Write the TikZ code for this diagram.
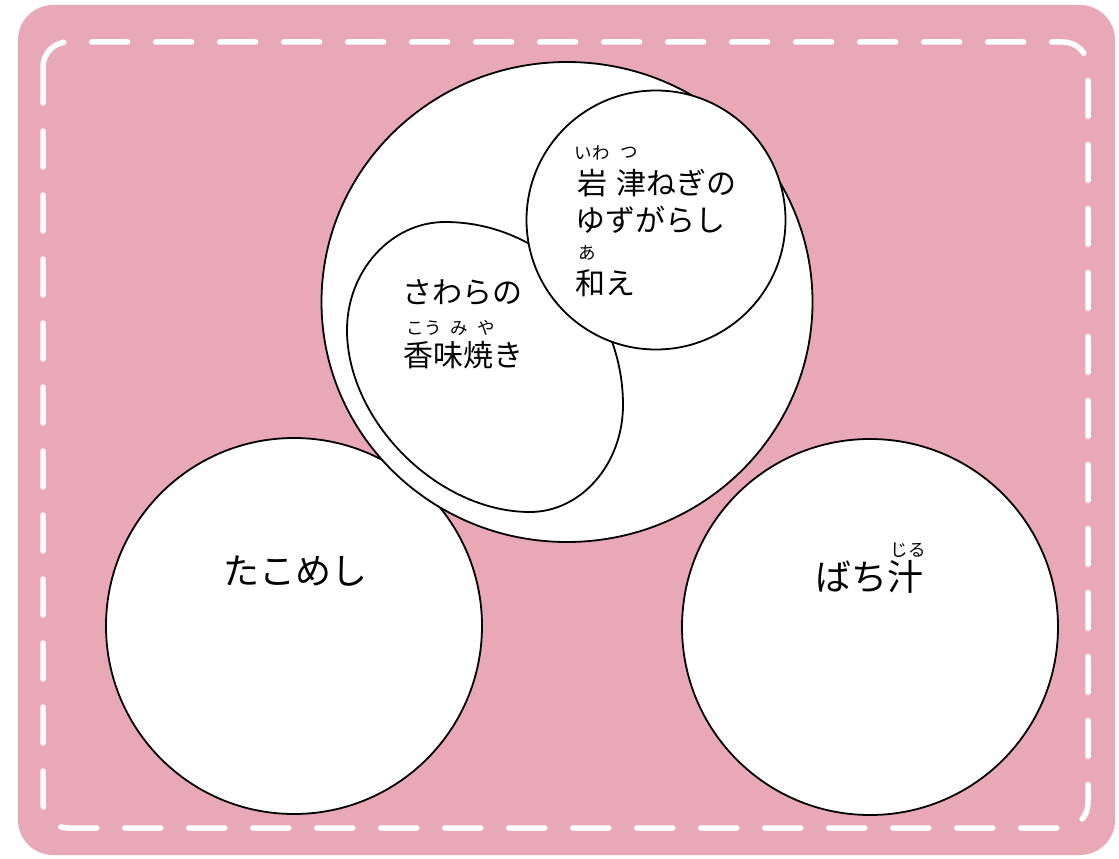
\documentclass[tikz,border=0pt]{standalone}
\usepackage{fontspec}
\newfontfamily\jpfont{Noto Sans CJK JP}
\usetikzlibrary{positioning}
\usetikzlibrary{shapes.geometric}
\definecolor{felt}{RGB}{233,168,182}

\tikzset{
  dish/.style={draw=black, line width=1.8pt, fill=white, circle, inner sep=0pt},
  menu/.style={font=\jpfont\fontsize{30}{36}\selectfont, anchor=west, inner sep=0pt},
  bigmenu/.style={font=\jpfont\fontsize{36}{42}\selectfont, inner sep=0pt},
  furi/.style={font=\jpfont\fontsize{17.5}{20}\selectfont, inner sep=0pt},
  stitch/.style={draw=white, line width=5.5pt, line cap=round, dash pattern=on 36pt off 28pt, rounded corners=25pt}
}

\begin{document}
\begin{tikzpicture}[x=1pt, y=-1pt]
    \useasboundingbox (0,0) rectangle (1119,859);

    % フェルトの台紙
    \fill[felt, rounded corners=35pt] (18,5) rectangle (1115,855);
    \draw[stitch] (43,42) rectangle (1088,828);

    % 下の二つの皿
    \node[dish, minimum size=376pt] (tako) at (294,626) {};
    \node[dish, minimum size=376pt] (bachi) at (870,627) {};

    % 主菜の皿
    \node[dish, ellipse, minimum width=491pt, minimum height=480pt] (main) at (567,302) {};
    \draw[line width=1.8pt, fill=white] (445,222)
        .. controls (543,222) and (623,304) .. (623,405)
        .. controls (623,464) and (581,512) .. (530,512)
        .. controls (438,512) and (347,421) .. (347,330)
        .. controls (347,271) and (391,222) .. cycle;
    \node[dish, minimum size=259pt] (negi) at (656,220) {};

    % 岩津ねぎのゆずがらし和え
    \node[menu] (negi1) at (577,183) {岩\hspace{9pt}津ねぎの};
    \node[menu] (negi2) at (575,220) {ゆずがらし};
    \node[menu] (negi3) at (575,283) {和え};
    \node[furi] (iwa) at (592,153) {いわ};
    \node[furi] (tsu) at (629,153) {つ};
    \node[furi] (a) at (587,253) {あ};

    % さわらの香味焼き
    \node[menu] (sawara1) at (402,293) {さわらの};
    \node[menu] (sawara2) at (403,355) {香味焼き};
    \node[furi] (kou) at (424,328) {こう};
    \node[furi] (mi) at (459,328) {み};
    \node[furi] (ya) at (486,328) {や};

    % たこめし・ばち汁
    \node[bigmenu] (takomeshi) at (295,571) {たこめし};
    \node[bigmenu] (bachijiru) at (869,577) {ばち汁};
    \node[furi] (jiru) at (908,550) {じる};

\end{tikzpicture}
\end{document}
